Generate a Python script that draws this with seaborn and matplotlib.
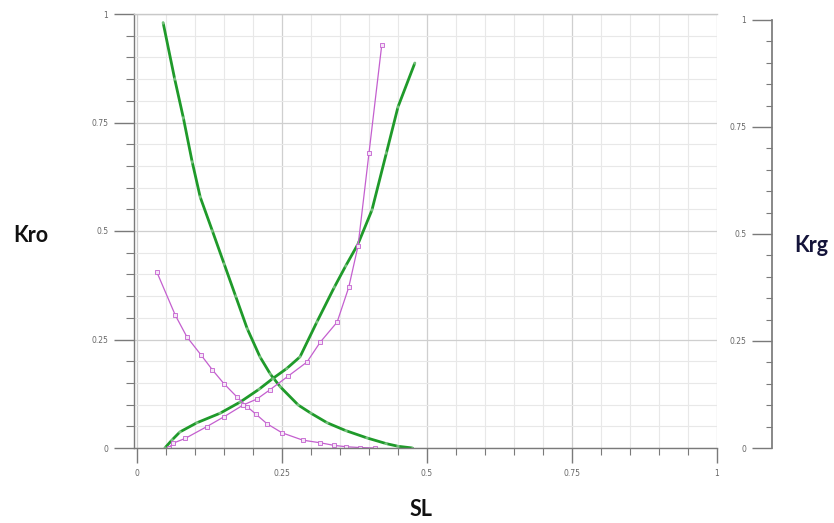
import numpy as np
import pandas as pd
import matplotlib
matplotlib.use("Agg")
import matplotlib.pyplot as plt
from matplotlib.ticker import MultipleLocator, FixedFormatter, FixedLocator
import seaborn as sns

# Relative permeability curves (x = SL)
kro_gas_sl = [0.045, 0.065, 0.08, 0.095, 0.109, 0.13, 0.15, 0.17, 0.19, 0.212,
              0.23, 0.247, 0.278, 0.30, 0.328, 0.36, 0.397, 0.43, 0.45, 0.475]
kro_gas = [0.98, 0.85, 0.76, 0.66, 0.578, 0.50, 0.425, 0.35, 0.275, 0.21,
           0.17, 0.141, 0.099, 0.08, 0.058, 0.04, 0.023, 0.01, 0.004, 0.0]

krg_gas_sl = [0.048, 0.06, 0.074, 0.103, 0.143, 0.178, 0.21, 0.234, 0.258, 0.281,
              0.31, 0.34, 0.36, 0.381, 0.405, 0.43, 0.45, 0.479]
krg_gas = [0.0, 0.018, 0.037, 0.058, 0.08, 0.106, 0.135, 0.16, 0.183, 0.21,
           0.29, 0.37, 0.42, 0.47, 0.548, 0.68, 0.786, 0.887]

kro_oil_sl = [0.034, 0.066, 0.086, 0.11, 0.13, 0.15, 0.172, 0.19, 0.205, 0.224,
              0.25, 0.286, 0.316, 0.34, 0.36, 0.384, 0.41]
kro_oil = [0.406, 0.306, 0.256, 0.215, 0.18, 0.148, 0.118, 0.095, 0.078, 0.056,
           0.035, 0.018, 0.012, 0.006, 0.003, 0.001, 0.0]

krg_oil_sl = [0.055, 0.062, 0.083, 0.12, 0.15, 0.183, 0.207, 0.229, 0.26, 0.293,
              0.316, 0.345, 0.365, 0.381, 0.40, 0.422]
krg_oil = [0.0, 0.011, 0.022, 0.049, 0.072, 0.099, 0.113, 0.134, 0.165, 0.198,
           0.244, 0.29, 0.37, 0.465, 0.68, 0.929]

tick_vals = [0, 0.25, 0.5, 0.75, 1]
tick_text = ["0", "0.25", "0.5", "0.75", "1"]

sns.set_theme(style="white")
plt.rcParams['font.family'] = ['DejaVu Sans']

GREEN = "#1f9a2a"
PURPLE = "#c45fcf"
AXIS = "#7a7a7a"

fig = plt.figure(figsize=(8.34, 5.23), dpi=100)
ax = fig.add_axes([134 / 834, 75 / 523, 583 / 834, 434 / 523])
ax.set_xlim(-0.0052, 1.0)
ax.set_ylim(0, 1)

# grid: light minor lines every 0.05, slightly darker majors
ax.xaxis.set_major_locator(FixedLocator(tick_vals))
ax.xaxis.set_major_formatter(FixedFormatter(tick_text))
ax.yaxis.set_major_locator(FixedLocator(tick_vals))
ax.yaxis.set_major_formatter(FixedFormatter(tick_text))
ax.xaxis.set_minor_locator(MultipleLocator(0.05))
ax.yaxis.set_minor_locator(MultipleLocator(0.05))
ax.grid(True, which="major", color="#cfcfcf", linewidth=0.9)
ax.grid(True, which="minor", color="#e8e8e8", linewidth=0.8)
ax.set_axisbelow(True)

for name, sp in ax.spines.items():
    sp.set_color(AXIS)
    sp.set_linewidth(1.0)
ax.spines["right"].set_visible(False)
ax.spines["top"].set_color("#c8c8c8")

ax.tick_params(axis="x", which="both", bottom=True)
ax.tick_params(axis="y", which="both", left=True)
ax.tick_params(axis="x", which="major", direction="out", length=11, width=1,
               color=AXIS, labelsize=5.5, labelcolor="#666666", pad=4)
ax.tick_params(axis="x", which="minor", direction="out", length=5, width=0.8, color=AXIS)
ax.tick_params(axis="y", which="major", direction="out", length=14.5, width=1,
               color=AXIS, labelsize=5.5, labelcolor="#666666", pad=4)
ax.tick_params(axis="y", which="minor", direction="out", length=6, width=0.8, color=AXIS)

# curves
sns.lineplot(x=kro_gas_sl, y=kro_gas, ax=ax, color=GREEN, linewidth=2.0, sort=False,
             marker="s", markersize=1.5, markeredgewidth=0.3, markerfacecolor=GREEN)
sns.lineplot(x=krg_gas_sl, y=krg_gas, ax=ax, color=GREEN, linewidth=2.0, sort=False,
             marker="s", markersize=1.5, markeredgewidth=0.3, markerfacecolor=GREEN)
sns.lineplot(x=kro_oil_sl, y=kro_oil, ax=ax, color=PURPLE, linewidth=0.9, sort=False,
             marker="s", markersize=3.2, markeredgewidth=0.6, markerfacecolor="#f4e6f6",
             markeredgecolor=PURPLE)
sns.lineplot(x=krg_oil_sl, y=krg_oil, ax=ax, color=PURPLE, linewidth=0.9, sort=False,
             marker="s", markersize=3.2, markeredgewidth=0.6, markerfacecolor="#f4e6f6",
             markeredgecolor=PURPLE)
ax.set_xlabel("")
ax.set_ylabel("")

# separate right axis for Krg
axr = fig.add_axes([772 / 834, 75 / 523, 0.001, 434 / 523])
axr.set_ylim(0, 1.014)
axr.set_xticks([])
axr.patch.set_alpha(0)
for name, sp in axr.spines.items():
    sp.set_visible(name == "left")
axr.spines["left"].set_color(AXIS)
axr.spines["left"].set_bounds(0, 1)
axr.yaxis.set_major_locator(FixedLocator(tick_vals))
axr.yaxis.set_major_formatter(FixedFormatter(tick_text))
axr.yaxis.set_minor_locator(MultipleLocator(0.05))
axr.tick_params(axis="y", which="both", left=True)
axr.tick_params(axis="y", which="major", direction="out", length=14.5, width=1,
                color=AXIS, labelsize=5.5, labelcolor="#666666", pad=4)
axr.tick_params(axis="y", which="minor", direction="out", length=4, width=0.8, color=AXIS)

fig.text(31 / 834, 1 - 236 / 523, "Kro", ha="center", va="center",
         fontsize=15.5, fontweight="bold", family=["Lato", "DejaVu Sans"], color="#111111")
fig.text(811 / 834, 1 - 245 / 523, "Krg", ha="center", va="center",
         fontsize=15.5, fontweight="bold", family=["Lato", "DejaVu Sans"], color="#14143a")
fig.text(421 / 834, 1 - 510 / 523, "SL", ha="center", va="center",
         fontsize=15.5, fontweight="bold", family=["Lato", "DejaVu Sans"], color="#111111")

fig.savefig("out.png", dpi=100)
